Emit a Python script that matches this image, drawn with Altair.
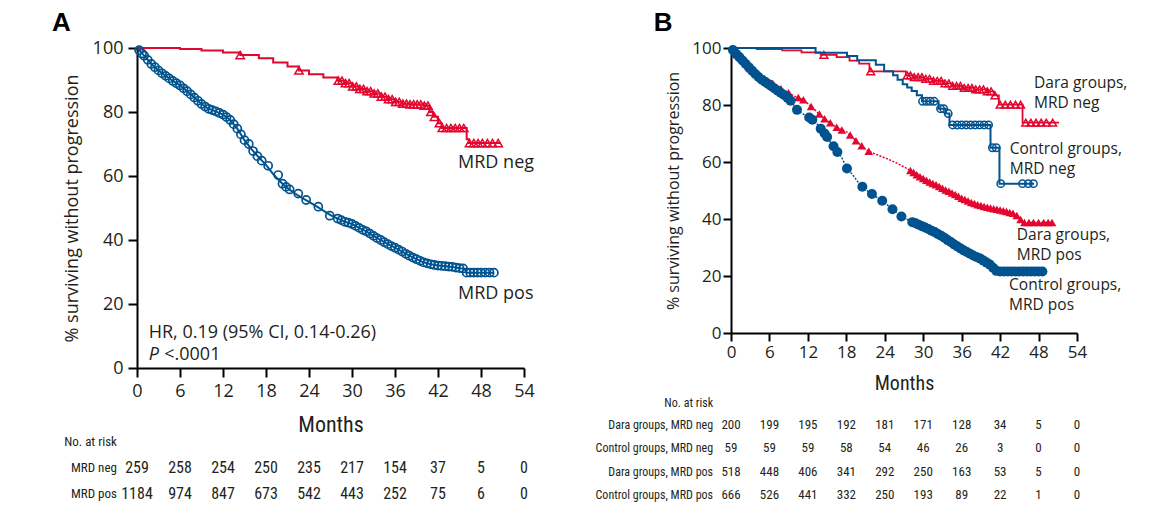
import altair as alt
import pandas as pd

RED = "#E3062F"
BLUE = "#00538E"
INK = "#231F20"
SANS = "Open Sans"
NARROW = "'Liberation Sans Narrow', 'Roboto Condensed', 'DejaVu Sans Condensed', 'Arial Narrow', sans-serif"

MONTH_TICKS = [0, 6, 12, 18, 24, 30, 36, 42, 48, 54]
PCT_TICKS = [0, 20, 40, 60, 80, 100]

# ---------------- Panel A : curves (months, % PFS) ----------------
A_NEG_CURVE = [(0, 100), (3, 100), (6, 99.7), (9, 99.2), (12, 98.6), (14.4, 97.8), (17, 96.8), (19, 95.5),
               (21, 94.2), (22.6, 93), (24, 91.8), (26, 90.8), (28, 89.8), (29, 89), (30, 88), (31, 87.2),
               (32, 86.5), (33, 85.8), (34, 84.8), (35, 84), (36, 83.2), (37, 82.6), (38, 82.4), (40, 82),
               (40.8, 80), (41.3, 78.5), (42, 76.5), (42.5, 75), (46, 71.5), (46.3, 70.3), (50.7, 70.3)]
A_NEG_CENSOR = [(14.4, 97.8), (22.6, 93), (28.1, 89.8), (28.6, 89.8), (29.1, 89), (29.6, 89), (30.1, 88),
                (30.6, 88), (31.1, 87.2), (31.6, 87.2), (32.1, 86.5), (32.6, 86.5), (33.1, 85.8), (33.6, 85.8),
                (34.1, 84.8), (34.6, 84.8), (35.1, 84), (35.6, 84), (36.1, 83.2), (36.6, 83.2), (37.1, 82.6),
                (37.6, 82.6), (38.1, 82.4), (38.6, 82.4), (39.1, 82.4), (39.6, 82.4), (40.1, 82), (40.6, 82),
                (41, 80), (41.5, 78.5), (42.2, 76.5), (42.6, 75), (43.2, 75), (43.8, 75), (44.4, 75), (45, 75),
                (45.6, 75), (46.4, 70.3), (47, 70.3), (47.6, 70.3), (48.2, 70.3), (48.9, 70.3), (49.6, 70.3),
                (50.4, 70.3)]
A_POS_CURVE = [(0, 100), (1, 97.6), (2, 95), (3, 93), (4, 91.3), (5, 89.7), (6, 88.3), (7, 86.5), (8, 84.5),
               (9, 82.5), (10, 81), (11, 80.2), (12, 79.2), (13, 77.5), (14, 74.8), (15, 71.2), (16, 68.3),
               (17, 65.8), (18, 63.5), (19, 60.6), (20, 58.2), (21, 56.2), (22, 54.6), (23, 53.2), (24, 51.9),
               (25, 50.6), (26, 49.2), (27, 47.8), (28, 46.7), (29, 45.7), (30, 45), (31, 43.8), (32, 42.7),
               (33, 41.3), (34, 40), (35, 38.7), (36, 37.6), (37, 36.4), (38, 35.1), (39, 34), (40, 33),
               (41, 32.4), (42, 32), (43, 31.8), (44, 31.6), (45, 31.2), (45.7, 31), (46, 29.8), (49.8, 29.8)]
A_POS_CENSOR = [(0.3, 99.3), (0.7, 98.3), (1, 97.6), (1.5, 96.3), (2, 95), (2.5, 94), (3, 93), (3.5, 92.1),
                (4, 91.3), (4.5, 90.5), (5, 89.7), (5.5, 89), (6, 88.3), (6.5, 87.4), (7, 86.5), (7.5, 85.5),
                (8, 84.5), (8.5, 83.5), (9, 82.5), (9.5, 81.7), (10, 81), (10.5, 80.6), (11, 80.2), (11.5, 79.7),
                (12, 79.2), (12.5, 78.4), (13, 77.5), (13.5, 76.2), (14, 74.8), (14.5, 73), (15, 71.2),
                (15.6, 70), (16.2, 67.8), (16.8, 66.2), (17.4, 64.8), (18.3, 63.2), (19.7, 60.3), (20.3, 57.6),
                (20.8, 56.6), (21.3, 55.8), (22.5, 54.5), (23.6, 52.5), (25.3, 50.4), (26.9, 47.6),
                (28, 46.7), (28.5, 46.2), (29, 45.7), (29.5, 45.4), (30, 45), (30.5, 44.4), (31, 43.8),
                (31.5, 43.2), (32, 42.7), (32.5, 42), (33, 41.3), (33.5, 40.6), (34, 40), (34.5, 39.3),
                (35, 38.7), (35.5, 38.1), (36, 37.6), (36.5, 37), (37, 36.4), (37.5, 35.7), (38, 35.1),
                (38.5, 34.5), (39, 34), (39.5, 33.5), (40, 33), (40.5, 32.7), (41, 32.4), (41.5, 32.2),
                (42, 32), (42.5, 31.9), (43, 31.8), (43.5, 31.7), (44, 31.6), (44.5, 31.4), (45, 31.2),
                (45.5, 31.1), (46, 29.8), (46.5, 29.8), (47, 29.8), (47.5, 29.8), (48, 29.8), (48.6, 29.8),
                (49.2, 29.8), (49.8, 29.8)]

A_RISK_LABELS = ["MRD neg", "MRD pos"]
A_RISK_NEG = [259, 258, 254, 250, 235, 217, 154, 37, 5, 0]
A_RISK_POS = [1184, 974, 847, 673, 542, 443, 252, 75, 6, 0]

# ---------------- Panel B : curves ----------------
B_DARA_NEG_CURVE = [(0, 100), (4, 99.6), (8, 99.2), (11, 98.5), (14, 97.6), (16.5, 96.8), (18.5, 95.6),
                    (20, 94.5), (21.6, 91.8), (27.3, 90.4), (28.5, 89.8), (30, 89.2), (31.5, 88.5), (33, 87.6),
                    (34.5, 86.7), (36, 86), (38, 85.5), (40, 84.8), (41, 83.4), (41.8, 80.1), (45.5, 73.8),
                    (51.2, 73.8)]
B_DARA_NEG_CENSOR = [(14.5, 97.6), (21.8, 91.8), (27.5, 90.4), (28, 90.4), (28.6, 89.8), (29.2, 89.8),
                     (29.8, 89.8), (30.4, 89.2), (31, 89.2), (31.6, 88.5), (32.2, 88.5), (32.8, 88.5),
                     (33.4, 87.6), (34, 87.6), (34.6, 86.7), (35.2, 86.7), (35.8, 86.7), (36.4, 86), (37, 86),
                     (37.6, 86), (38.2, 85.5), (38.8, 85.5), (39.4, 85.5), (40, 84.8), (40.6, 84.8),
                     (41.2, 83.4), (42, 80.1), (42.8, 80.1), (43.6, 80.1), (44.4, 80.1), (45.2, 80.1),
                     (46, 73.8), (46.8, 73.8), (47.6, 73.8), (48.4, 73.8), (49.2, 73.8), (50.2, 73.8)]
B_CTRL_NEG_CURVE = [(0, 100), (13.2, 98.3), (18.1, 97.2), (19.7, 95.7), (22.6, 94.1), (23.9, 91.8),
                    (25.3, 90.4), (26, 88.9), (26.8, 87.3), (27.5, 86.1), (28.2, 84.9), (29, 83.4),
                    (29.8, 81.3), (32.4, 78.7), (33.5, 77), (34.1, 73), (40.5, 65), (41.9, 52.4), (47.3, 52.4)]
B_CTRL_NEG_CENSOR = [(29.9, 81.3), (30.5, 81.3), (31.1, 81.3), (31.7, 81.3), (32.7, 78.7), (33.2, 78.7),
                     (33.9, 77), (34.6, 73), (35.3, 73), (36, 73), (36.7, 73), (37.4, 73), (38.1, 73),
                     (38.8, 73), (39.5, 73), (40.2, 73), (40.8, 65), (41.4, 65), (42.1, 52.4), (45.5, 52.4),
                     (46.4, 52.4), (47.2, 52.4)]
B_DARA_POS_CURVE = [(0, 100), (0.5, 98.5), (1.5, 96.8), (2.5, 94), (3.6, 91.6), (5, 89.5), (6.2, 88.1),
                    (7.5, 86), (8.8, 84.5), (10, 83), (10.9, 82.2), (12, 80.5), (13, 78.5), (14, 76.3),
                    (15, 74.5), (16.1, 72.8), (17, 71.5), (18.1, 70.5), (19, 68.5), (19.7, 67), (20.5, 65.5),
                    (21.3, 64), (22.5, 62.8), (24.4, 61.1), (26, 59.5), (28, 57), (29.6, 54.6), (31, 53),
                    (32.2, 51.7), (33.5, 50.2), (34.8, 48.8), (36, 47.3), (37.4, 45.9), (38.5, 45), (40, 44.1),
                    (41.3, 43.5), (42.6, 42.9), (44.2, 41.8), (45, 40.5), (45.5, 38.8), (50.1, 38.8)]
B_DARA_POS_CENSOR = [(1, 97.6), (2, 95.4), (3, 92.8), (4, 90.9), (5.2, 89.3), (6.5, 87.6), (7.8, 85.7),
                     (9, 84.3), (10.5, 82.6), (11.3, 81.8), (12.5, 79.5), (13.8, 76.8), (14.6, 75.2),
                     (15.5, 73.8), (16.5, 72.2), (17.3, 71.2), (18.6, 69.5), (19.5, 67.5), (20.4, 65.7),
                     (21.5, 63.8), (28, 57), (28.5, 56.3), (29, 55.5), (29.5, 54.8), (30, 54.2), (30.5, 53.6),
                     (31, 53), (31.5, 52.5), (32, 52), (32.5, 51.4), (33, 50.8), (33.5, 50.2), (34, 49.7),
                     (34.5, 49.1), (35, 48.6), (35.5, 48), (36, 47.3), (36.5, 46.8), (37, 46.3), (37.5, 45.8),
                     (38, 45.4), (38.5, 45), (39, 44.7), (39.5, 44.4), (40, 44.1), (40.5, 43.9), (41, 43.6),
                     (41.5, 43.4), (42, 43.2), (42.5, 42.9), (43, 42.6), (43.5, 42.3), (44, 42), (44.6, 41.2),
                     (45.2, 39.8), (45.8, 38.8), (46.5, 38.8), (47.2, 38.8), (48, 38.8), (48.8, 38.8),
                     (49.5, 38.8), (50.1, 38.8)]
B_CTRL_POS_CURVE = [(0, 100), (1, 97.5), (2.5, 93.9), (3.5, 91.5), (4.6, 89.2), (6, 87), (7.2, 85.1),
                    (8.5, 83), (9.5, 81), (10.3, 78.3), (11.5, 76.5), (12.4, 75.2), (13.2, 74), (14, 71.7),
                    (14.8, 69.5), (15.5, 67), (16.6, 63.5), (17.3, 61.5), (18.1, 57.7), (19, 55.5),
                    (20.2, 51.8), (21.2, 50), (22.3, 48.3), (23.9, 45.9), (25.4, 43), (26.7, 40.7), (28, 39.3),
                    (29, 38.4), (30.3, 37), (31.7, 35.5), (33, 33.8), (34.3, 31.9), (35.3, 30.4), (36.3, 29),
                    (37.5, 27.6), (38.9, 26.1), (39.7, 25), (40.5, 23.8), (41.5, 21.6), (48.8, 21.6)]
B_CTRL_POS_CENSOR = [(0.3, 99.3), (0.8, 98), (1.3, 96.8), (1.8, 95.6), (2.3, 94.4), (2.8, 93.2), (3.3, 92),
                     (3.8, 90.9), (4.3, 89.8), (4.8, 88.9), (5.3, 88.2), (5.8, 87.4), (6.3, 86.6), (6.8, 85.8),
                     (7.3, 85), (7.8, 84.2), (8.3, 83.5), (8.8, 82.6), (9.3, 81.5), (10.3, 78.3), (12.2, 75.6),
                     (12.7, 74.8), (14, 71.7), (14.6, 70), (15, 68.8), (16, 65.5), (16.6, 63.5), (18.1, 57.7),
                     (20.5, 51.3), (22, 48.8), (23.6, 46.4), (25.2, 43.4), (26.6, 40.9), (28.3, 38.9),
                     (28.8, 38.5), (29.3, 38), (29.8, 37.5), (30.3, 37), (30.8, 36.5), (31.3, 35.9),
                     (31.8, 35.4), (32.3, 34.7), (32.8, 34.1), (33.3, 33.4), (33.8, 32.6), (34.3, 31.9),
                     (34.8, 31.1), (35.3, 30.4), (35.8, 29.7), (36.3, 29), (36.8, 28.4), (37.3, 27.8),
                     (37.8, 27.2), (38.3, 26.7), (38.9, 26.1), (39.4, 25.4), (39.9, 24.7), (40.4, 24),
                     (40.9, 22.9), (41.4, 21.8), (42, 21.6), (42.6, 21.6), (43.2, 21.6), (43.8, 21.6),
                     (44.4, 21.6), (45, 21.6), (45.6, 21.6), (46.2, 21.6), (46.8, 21.6), (47.4, 21.6),
                     (48, 21.6), (48.6, 21.6)]

B_RISK_LABELS = ["Dara groups,  MRD neg", "Control groups,  MRD neg", "Dara groups,  MRD pos",
                 "Control groups,  MRD pos"]
B_RISK_DARA_NEG = [200, 199, 195, 192, 181, 171, 128, 34, 5, 0]
B_RISK_CTRL_NEG = [59, 59, 59, 58, 54, 46, 26, 3, 0, 0]
B_RISK_DARA_POS = [518, 448, 406, 341, 292, 250, 163, 53, 5, 0]
B_RISK_CTRL_POS = [666, 526, 441, 332, 250, 193, 89, 22, 1, 0]


def frame(pairs):
    return pd.DataFrame(pairs, columns=["t", "s"])


def encodings(label_size, title_size, months_size, tick, ylab_pad, ytitle_pad, xlab_pad, xtitle_pad):
    common = dict(grid=False, domainColor="black", domainWidth=2, tickColor="black", tickWidth=2,
                  tickSize=tick, labelFont=SANS, labelFontSize=label_size, labelColor=INK,
                  labelFlush=False, titleFontWeight="normal", titleColor=INK)
    x = alt.X("t:Q", scale=alt.Scale(domain=[0, 54], nice=False, zero=False),
              axis=alt.Axis(values=MONTH_TICKS, title="Months", labelPadding=xlab_pad,
                            titleFont=NARROW, titleFontSize=months_size, titlePadding=xtitle_pad,
                            **common))
    y = alt.Y("s:Q", scale=alt.Scale(domain=[0, 100], nice=False, zero=False),
              axis=alt.Axis(values=PCT_TICKS, title="% surviving without progression",
                            labelPadding=ylab_pad, titleFont=SANS, titleFontSize=title_size,
                            titlePadding=ytitle_pad, **common))
    return x, y


def curve(pairs, x, y, color, width, interp, dash=None):
    kw = dict(color=color, strokeWidth=width, interpolate=interp)
    if dash:
        kw["strokeDash"] = dash
    return alt.Chart(frame(pairs)).mark_line(**kw).encode(x=x, y=y)


def censor(pairs, x, y, color, shape, filled, size, sw=1.5):
    return alt.Chart(frame(pairs)).mark_point(shape=shape, filled=filled, color=color, size=size,
                                              strokeWidth=sw, opacity=1).encode(x=x, y=y)


def texts(rows, x, y, **kw):
    df = pd.DataFrame(rows, columns=["t", "s", "label"])
    return alt.Chart(df).mark_text(color=INK, baseline="middle", **kw).encode(x=x, y=y, text="label:N")


# ---------------- Panel A ----------------
xa, ya = encodings(18, 18, 22, 9, 5, 11, 5, 14)
A_ROWS = [-31.2, -39.4]
risk_a = []
for row_s, counts in zip(A_ROWS, [A_RISK_NEG, A_RISK_POS]):
    risk_a += [(m, row_s, str(c)) for m, c in zip(MONTH_TICKS, counts)]
panel_a = alt.layer(
    curve(A_NEG_CURVE, xa, ya, RED, 2, "step-after"),
    censor(A_NEG_CENSOR, xa, ya, RED, "triangle-up", False, 70),
    curve(A_POS_CURVE, xa, ya, BLUE, 2, "linear"),
    censor(A_POS_CENSOR, xa, ya, BLUE, "circle", False, 65, 1.7),
    texts([(44.8, 64.1, "MRD neg"), (44.8, 23.1, "MRD pos")], xa, ya, align="left", font=SANS, fontSize=18),
    texts([(1.63, 10.9, "HR, 0.19 (95% CI, 0.14-0.26)")], xa, ya, align="left", font=SANS, fontSize=18),
    texts([(1.63, 4.1, "P")], xa, ya, align="left", font=SANS, fontSize=18, fontStyle="italic"),
    texts([(3.8, 4.1, "<.0001")], xa, ya, align="left", font=SANS, fontSize=18),
    texts([(-2.8, -23.2, "No. at risk")] + [(-2.8, s, l) for s, l in zip(A_ROWS, A_RISK_LABELS)],
          xa, ya, align="right", font=NARROW, fontSize=13),
    texts(risk_a, xa, ya, align="center", font=NARROW, fontSize=16),
).properties(width=387, height=320,
             title=alt.TitleParams("A", anchor="start", frame="bounds", font="Liberation Sans",
                                   fontSize=26, fontWeight="bold", color="black", offset=3, dx=-11))

# ---------------- Panel B ----------------
xb, yb = encodings(17, 16, 20, 8, 2, 10, 3, 13)
B_ROWS = [-32.2, -40.4, -48.6, -56.8]
risk_b = []
for row_s, counts in zip(B_ROWS, [B_RISK_DARA_NEG, B_RISK_CTRL_NEG, B_RISK_DARA_POS, B_RISK_CTRL_POS]):
    risk_b += [(m, row_s, str(c)) for m, c in zip(MONTH_TICKS, counts)]
panel_b = alt.layer(
    curve(B_DARA_POS_CURVE, xb, yb, RED, 1.5, "linear", [2, 1.5]),
    censor(B_DARA_POS_CENSOR, xb, yb, RED, "triangle-up", True, 75),
    curve(B_CTRL_POS_CURVE, xb, yb, BLUE, 1.5, "linear", [2, 1.5]),
    censor(B_CTRL_POS_CENSOR, xb, yb, BLUE, "circle", True, 100),
    curve(B_DARA_NEG_CURVE, xb, yb, RED, 1.8, "step-after"),
    censor(B_DARA_NEG_CENSOR, xb, yb, RED, "triangle-up", False, 60),
    curve(B_CTRL_NEG_CURVE, xb, yb, BLUE, 2, "step-after"),
    censor(B_CTRL_NEG_CENSOR, xb, yb, BLUE, "circle", False, 55),
    texts([(47.3, 87.8, "Dara groups,"), (47.3, 80.6, "MRD neg"),
           (43.5, 64.6, "Control groups,"), (43.5, 57.4, "MRD neg"),
           (44.6, 34.5, "Dara groups,"), (44.6, 27.3, "MRD pos"),
           (43.4, 16.9, "Control groups,"), (43.4, 9.7, "MRD pos")],
          xb, yb, align="left", font=SANS, fontSize=15.5),
    texts([(-2.8, -24.5, "No. at risk")] + [(-2.8, s, l) for s, l in zip(B_ROWS, B_RISK_LABELS)],
          xb, yb, align="right", font=NARROW, fontSize=12),
    texts(risk_b, xb, yb, align="center", font=NARROW, fontSize=13),
).properties(width=346, height=285,
             title=alt.TitleParams("B", anchor="start", frame="bounds", font="Liberation Sans",
                                   fontSize=26, fontWeight="bold", color="black", offset=3, dx=61))

chart = alt.hconcat(panel_a, panel_b, spacing=207, bounds="flush").properties(
    padding={"left": 44, "top": 2, "right": 5, "bottom": 5}
).configure_view(strokeWidth=0)

chart.save("out.html", embed_options={"renderer": "svg", "actions": False})
